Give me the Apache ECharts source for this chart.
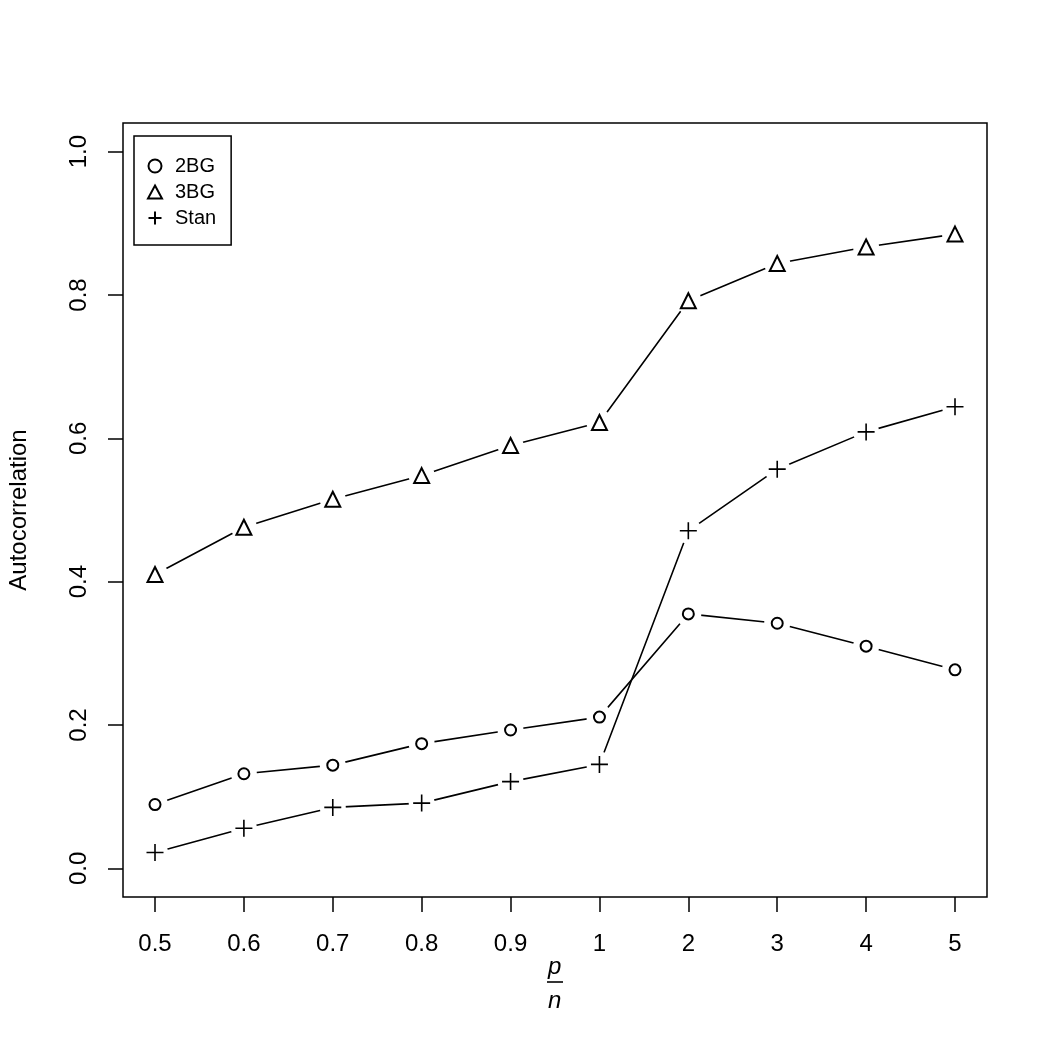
<!DOCTYPE html>
<html>
<head>
<meta charset="utf-8">
<script src="https://cdn.jsdelivr.net/npm/echarts@6/dist/echarts.min.js"></script>
<style>
  html, body { margin: 0; padding: 0; background: #fff; }
  #main { width: 1050px; height: 1050px; }
</style>
</head>
<body>
<div id="main"></div>
<script>
// x categories (p/n ratio) and series values
var xLabels = ['0.5', '0.6', '0.7', '0.8', '0.9', '1', '2', '3', '4', '5'];
var bg2 = [0.089, 0.132, 0.144, 0.174, 0.193, 0.211, 0.355, 0.342, 0.310, 0.277];
var bg3 = [0.410, 0.476, 0.515, 0.548, 0.590, 0.622, 0.792, 0.844, 0.867, 0.885];
var stan = [0.022, 0.056, 0.085, 0.091, 0.121, 0.145, 0.471, 0.557, 0.609, 0.644];
var yTicks = [0, 0.2, 0.4, 0.6, 0.8, 1.0];

var FONT = 'Liberation Sans, Arial, Helvetica, sans-serif';
var plusPath = 'path://M0,10L20,10M10,0L10,20';

function toPts(arr) {
    var out = [];
    for (var i = 0; i < arr.length; i++) {
        out.push([i + 1, arr[i]]);
    }
    return out;
}
var xPos = [];
for (var i = 0; i < xLabels.length; i++) xPos.push(i + 1);

var groups = [
    { name: '2BG', data: bg2, symbol: 'emptyCircle', size: 11 },
    { name: '3BG', data: bg3, symbol: 'emptyTriangle', size: 15 },
    { name: 'Stan', data: stan, symbol: plusPath, size: 17 }
];

var series = [];
// lines first
groups.forEach(function (g) {
    series.push({
        name: 'line_' + g.name,
        type: 'line',
        data: toPts(g.data),
        showSymbol: false,
        silent: true,
        lineStyle: { color: '#000', width: 1.6 },
        z: 2
    });
});
// white disks give the type="b" gaps around points
groups.forEach(function (g) {
    series.push({
        name: 'gap_' + g.name,
        type: 'scatter',
        data: toPts(g.data),
        symbol: 'circle',
        symbolSize: 26,
        silent: true,
        itemStyle: { color: '#fff', opacity: 1 },
        z: 3
    });
});
// markers
groups.forEach(function (g) {
    series.push({
        name: g.name,
        type: 'scatter',
        data: toPts(g.data),
        symbol: g.symbol,
        symbolSize: g.size,
        itemStyle: { color: '#000', borderColor: '#000', borderWidth: 1.6, opacity: 1 },
        z: 4
    });
});

var chart = echarts.init(document.getElementById('main'), null, { renderer: 'canvas' });
var option = {
    backgroundColor: '#fff',
    animation: false,
    grid: {
        left: 123, right: 63, top: 123, bottom: 153,
        outerBoundsMode: 'none',
        containLabel: false,
        show: true, borderColor: '#000', borderWidth: 1.5, backgroundColor: 'transparent'
    },
    legend: {
        data: ['2BG', '3BG', 'Stan'],
        orient: 'vertical',
        left: 134, top: 136,
        padding: [20, 15, 17, 13],
        itemWidth: 14, itemHeight: 13, itemGap: 6,
        borderColor: '#000', borderWidth: 1.5, backgroundColor: '#fff',
        textStyle: { fontFamily: FONT, fontSize: 20, lineHeight: 20, color: '#000', padding: [0, 0, 0, 8] },
        inactiveColor: '#000'
    },
    xAxis: {
        type: 'value',
        min: 0.64, max: 10.36,
        axisLine: { show: false, onZero: false },
        splitLine: { show: false },
        axisTick: { show: true, length: 15, lineStyle: { color: '#000', width: 1.5 }, customValues: xPos },
        axisLabel: {
            customValues: xPos,
            margin: 35,
            fontFamily: FONT, fontSize: 24, color: '#000',
            formatter: function (v) { return xLabels[Math.round(v) - 1]; }
        }
    },
    yAxis: {
        type: 'value',
        min: -0.04, max: 1.04,
        name: 'Autocorrelation',
        nameLocation: 'middle',
        nameRotate: 90,
        nameGap: 92,
        nameTextStyle: { fontFamily: FONT, fontSize: 24, color: '#000' },
        axisLine: { show: false, onZero: false },
        splitLine: { show: false },
        axisTick: { show: true, length: 15, lineStyle: { color: '#000', width: 1.5 }, customValues: yTicks },
        axisLabel: {
            customValues: yTicks,
            rotate: 90,
            margin: 32,
            fontFamily: FONT, fontSize: 24, color: '#000',
            formatter: function (v) { return v.toFixed(1); }
        }
    },
    graphic: [
        { type: 'text', left: 548, top: 955, style: { text: 'p', font: 'italic 24px ' + FONT, fill: '#000' } },
        { type: 'line', shape: { x1: 547, y1: 982, x2: 563, y2: 982 }, style: { stroke: '#000', lineWidth: 1.6 } },
        { type: 'text', left: 548, top: 989, style: { text: 'n', font: 'italic 24px ' + FONT, fill: '#000' } }
    ],
    series: series
};
chart.setOption(option);
</script>
</body>
</html>
